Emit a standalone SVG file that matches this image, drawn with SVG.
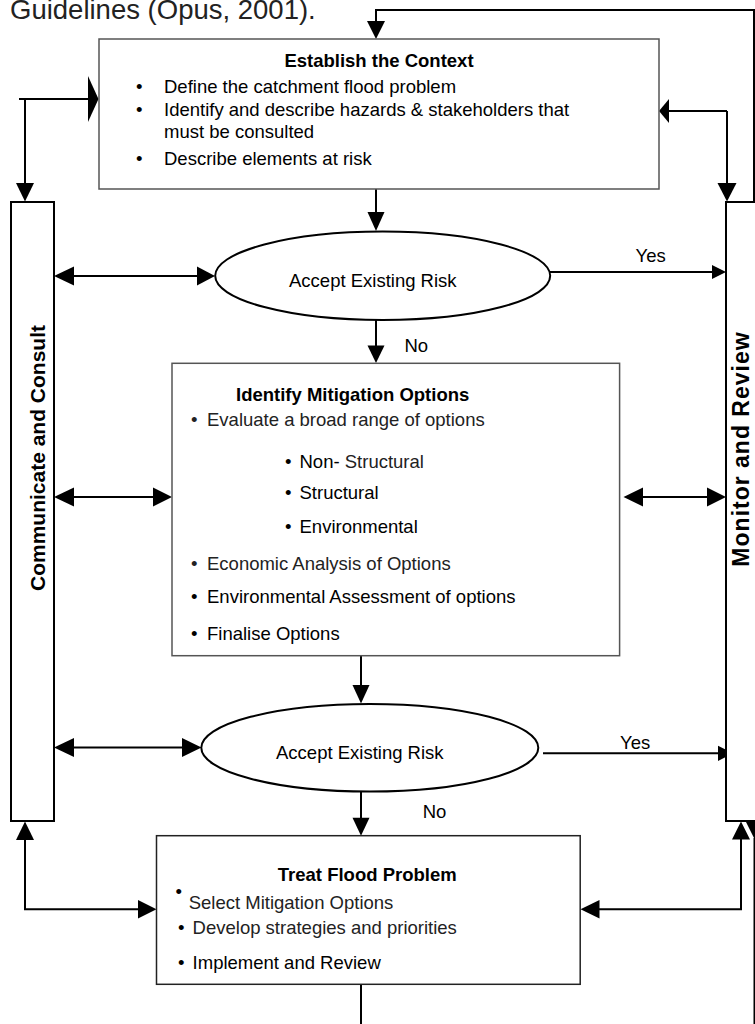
<svg xmlns="http://www.w3.org/2000/svg" width="755" height="1024" viewBox="0 0 755 1024">
<style>
.box{fill:#fff;stroke:#555;stroke-width:1.5}
.box2{fill:#fff;stroke:#222;stroke-width:1.5}
.col{fill:#fff;stroke:#000;stroke-width:2}
.ell{fill:#fff;stroke:#000;stroke-width:2}
.t{font-family:"Liberation Sans",Arial,sans-serif;font-size:18.5px;fill:#000}
.g{fill:#222}
.b{font-weight:bold}
.ln{fill:none;stroke:#000;stroke-width:2}
.ah{fill:#000;stroke:none}
</style>
<rect width="755" height="1024" fill="#fff"/>
<text class="t g" x="10" y="19" style="font-size:27.5px">Guidelines (Opus, 2001).</text>

<g id="connectors">
  <path class="ln" d="M754,202 V10 H376 V22"/>
  <polygon class="ah" points="367,21 385,21 376,39"/>
  <path class="ln" d="M19,99 H89 M25,99 V185"/>
  <polygon class="ah" points="88,76 98.5,99 88,122"/>
  <polygon class="ah" points="16,183 34,183 25,201.5"/>
  <path class="ln" d="M727,111 H668 M727,111 V185"/>
  <polygon class="ah" points="669,99 659,111 669,123"/>
  <polygon class="ah" points="717.5,183 736.5,183 727,201.5"/>
  <path class="ln" d="M376,189 V214"/>
  <polygon class="ah" points="367.5,212 384.5,212 376,231"/>
  <path class="ln" d="M376,320 V347"/>
  <polygon class="ah" points="367.5,345.5 384.5,345.5 376,363"/>
  <path class="ln" d="M73,276 H198"/>
  <polygon class="ah" points="74,266.5 54,276 74,285.5"/>
  <polygon class="ah" points="197,266.5 215,276 197,285.5"/>
  <path class="ln" d="M550,272 H713"/>
  <polygon class="ah" points="712,265 726,272 712,279"/>
  <path class="ln" d="M73,497 H154"/>
  <polygon class="ah" points="74,487.5 54,497 74,506.5"/>
  <polygon class="ah" points="153,487.5 172,497 153,506.5"/>
  <path class="ln" d="M642,497 H708"/>
  <polygon class="ah" points="643,487.5 623.5,497 643,506.5"/>
  <polygon class="ah" points="707,487.5 726,497 707,506.5"/>
  <path class="ln" d="M361,656 V686"/>
  <polygon class="ah" points="352.5,685 369.5,685 361,703.5"/>
  <path class="ln" d="M73,747.5 H183"/>
  <polygon class="ah" points="74,738 54,747.5 74,757"/>
  <polygon class="ah" points="182,738 201.5,747.5 182,757"/>
  <path class="ln" d="M543,753.3 H719"/>
  <polygon class="ah" points="718,745.7 733,753.3 718,760.9"/>
  <path class="ln" d="M361,792 V819"/>
  <polygon class="ah" points="352.5,817.7 369.5,817.7 361,835.7"/>
  <path class="ln" d="M25,839 V909.3 H139"/>
  <polygon class="ah" points="16,840 34,840 25,821.5"/>
  <polygon class="ah" points="138,900 156.5,909.3 138,918.6"/>
  <path class="ln" d="M741,838 V909.3 H598"/>
  <polygon class="ah" points="732,839.5 750,839.5 741,821.5"/>
  <polygon class="ah" points="599.5,900 580.5,909.3 599.5,918.6"/>
  <path class="ln" d="M754.5,838 V1024"/>
  <polygon class="ah" points="745.5,821 763.5,821 754.5,839"/>
  <path class="ln" d="M361,984 V1024"/>
</g>

<g id="communicate">
  <rect class="col" x="11" y="202" width="43" height="619"/>
  <text class="t b" transform="translate(45,458) rotate(-90)" text-anchor="middle" style="font-size:21px">Communicate and Consult</text>
</g>

<g id="monitor">
  <rect class="col" x="726" y="202" width="40" height="619"/>
  <text class="t b" transform="translate(749,449) rotate(-90)" text-anchor="middle" style="font-size:23px;letter-spacing:1px">Monitor and Review</text>
</g>

<g id="context">
  <rect class="box" x="99" y="39" width="560" height="150"/>
  <text class="t b" x="379" y="67" text-anchor="middle">Establish the Context</text>
  <text class="t" x="136" y="93">•</text>
  <text class="t" x="164" y="93">Define the catchment flood problem</text>
  <text class="t" x="136" y="116">•</text>
  <text class="t" x="164" y="116">Identify and describe hazards &amp; stakeholders that</text>
  <text class="t" x="164" y="138">must be consulted</text>
  <text class="t" x="136" y="165">•</text>
  <text class="t" x="164" y="165">Describe elements at risk</text>
</g>

<g id="accept1">
  <ellipse class="ell" cx="382.7" cy="275.8" rx="167.5" ry="44.2"/>
  <text class="t" x="289" y="286.5">Accept Existing Risk</text>
  <text class="t" x="635.5" y="261.5">Yes</text>
  <text class="t" x="404.5" y="352">No</text>
</g>

<g id="mitigation">
  <rect class="box" x="172" y="363.3" width="447.6" height="292.4"/>
  <text class="t b" x="236" y="400.7">Identify Mitigation Options</text>
  <text class="t g" x="191" y="426">•</text>
  <text class="t g" x="207" y="426">Evaluate a broad range of options</text>
  <text class="t" x="285" y="468.3">•</text>
  <text class="t" x="299.5" y="468.3">Non-<tspan class="g"> Structural</tspan></text>
  <text class="t" x="285" y="499.3">•</text>
  <text class="t" x="299.5" y="499.3">Structural</text>
  <text class="t" x="285" y="533.3">•</text>
  <text class="t" x="299.5" y="533.3">Environmental</text>
  <text class="t g" x="191" y="570">•</text>
  <text class="t g" x="207" y="570">Economic Analysis of Options</text>
  <text class="t" x="191" y="603.3">•</text>
  <text class="t" x="207" y="603.3">Environmental Assessment of options</text>
  <text class="t" x="191" y="640">•</text>
  <text class="t" x="207" y="640">Finalise Options</text>
</g>

<g id="accept2">
  <ellipse class="ell" cx="369.8" cy="747.8" rx="168.5" ry="43.8"/>
  <text class="t" x="276" y="759.3">Accept Existing Risk</text>
  <text class="t" x="620" y="749">Yes</text>
  <text class="t" x="422.7" y="818.3">No</text>
</g>

<g id="treat">
  <rect class="box2" x="156.5" y="835.7" width="423.7" height="148.6"/>
  <text class="t b" x="277.8" y="880.7">Treat Flood Problem</text>
  <text class="t" x="175.5" y="898">•</text>
  <text class="t g" x="188.7" y="909.3">Select Mitigation Options</text>
  <text class="t" x="178" y="934.3">•</text>
  <text class="t g" x="192.6" y="934.3">Develop strategies and priorities</text>
  <text class="t" x="178" y="969.3">•</text>
  <text class="t" x="192.6" y="969.3">Implement and Review</text>
</g>
</svg>
